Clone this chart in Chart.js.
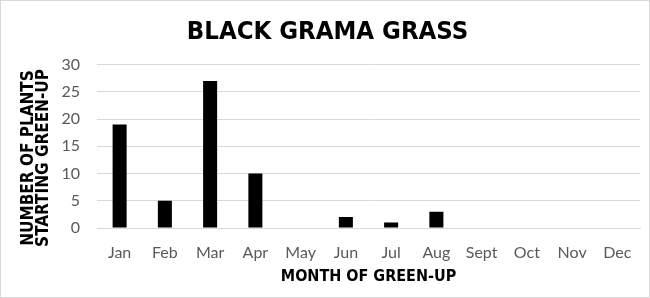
<!DOCTYPE html>
<html>
<head>
<meta charset="utf-8">
<script src="https://cdn.jsdelivr.net/npm/chart.js@4"></script>
<style>
  html, body { margin: 0; padding: 0; background: #fff; }
  #wrap { width: 648px; height: 296px; border: 1px solid #d9d9d9; position: relative; }
</style>
</head>
<body>
<div id="wrap"><canvas id="grassChart" width="648" height="296"></canvas></div>
<script>
const months = ["Jan", "Feb", "Mar", "Apr", "May", "Jun", "Jul", "Aug", "Sept", "Oct", "Nov", "Dec"];
const plantsStarting = [19, 5, 27, 10, 0, 2, 1, 3, 0, 0, 0, 0];
const yMax = 30;
const yStep = 5;
const yTitleLines = ["NUMBER OF PLANTS", "STARTING GREEN-UP"];

// y title is drawn by hand so it can sit a little below the plot centre like the original
const yTitlePlugin = {
  id: "yTitle",
  afterDraw(chart) {
    const c = chart.ctx;
    c.save();
    c.translate(35, 157);
    c.rotate(-Math.PI / 2);
    c.fillStyle = "#000";
    c.font = "bold 17px 'DejaVu Sans Condensed'";
    c.textAlign = "center";
    c.textBaseline = "middle";
    c.fillText(yTitleLines[0], 0, -7);
    c.fillText(yTitleLines[1], 0, 8);
    c.restore();
  },
};

const ctx = document.getElementById("grassChart").getContext("2d");

const grassChart = new Chart(ctx, {
  type: "bar",
  data: {
    labels: months,
    datasets: [
      {
        data: plantsStarting,
        backgroundColor: "#000",
        barPercentage: 0.62,
        categoryPercentage: 0.5,
      },
    ],
  },
  options: {
    responsive: false,
    animation: false,
    layout: {
      padding: { top: 4, right: 9, bottom: 0, left: 14 },
    },
    plugins: {
      legend: { display: false },
      tooltip: { enabled: false },
      title: {
        display: true,
        text: "BLACK GRAMA GRASS",
        color: "#000",
        font: { family: "DejaVu Sans Condensed", size: 25.5, weight: "bold" },
        padding: { top: 12, bottom: 17 },
      },
    },
    scales: {
      x: {
        afterFit(scale) {
          scale.height = 69;
        },
        grid: { display: false },
        border: { color: "#d9d9d9" },
        ticks: {
          color: "#595959",
          font: { family: "Lato", size: 16 },
          padding: 7,
          maxRotation: 0,
          autoSkip: false,
        },
        title: {
          display: true,
          text: "MONTH OF GREEN-UP",
          color: "#000",
          font: { family: "DejaVu Sans Condensed", size: 16, weight: "bold" },
          padding: { top: 0, bottom: 11 },
        },
      },
      y: {
        min: 0,
        max: yMax,
        afterFit(scale) {
          scale.width = 82;
        },
        ticks: {
          stepSize: yStep,
          color: "#595959",
          font: { family: "Lato", size: 16 },
          padding: 17,
        },
        grid: { color: "#d9d9d9", drawTicks: false },
        border: { display: false },
      },
    },
  },
  plugins: [yTitlePlugin],
});
</script>
</body>
</html>
